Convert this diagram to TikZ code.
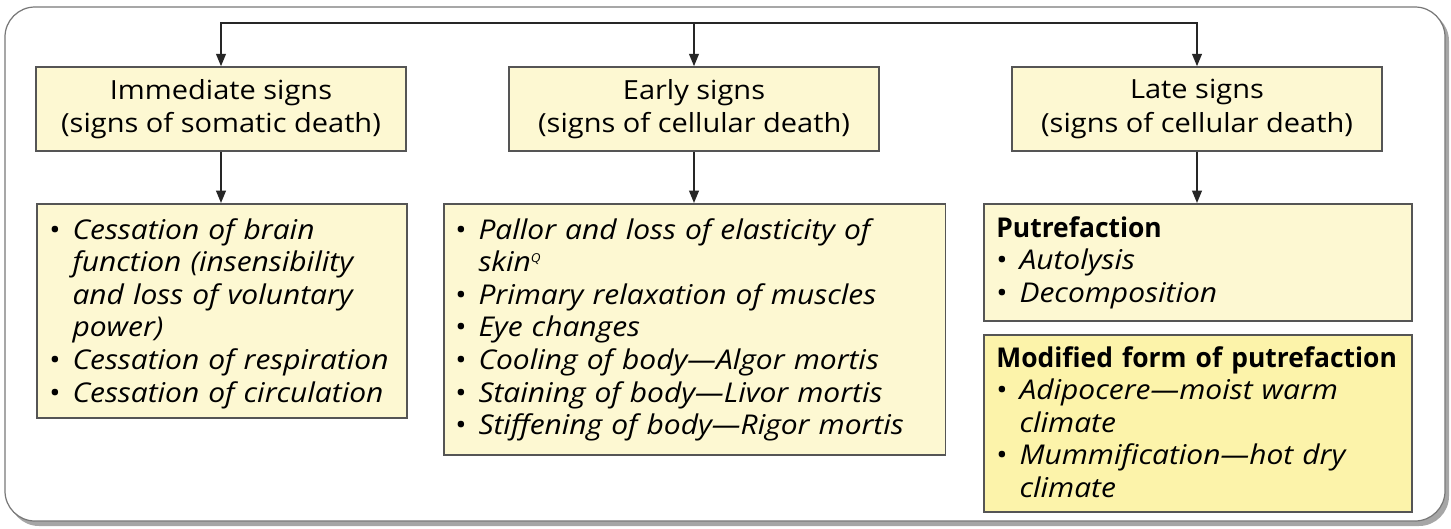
\documentclass[tikz,border=0pt]{standalone}
\usepackage{fontspec}
\setmainfont{Open Sans}[FakeStretch=1.1, BoldFeatures={FakeStretch=0.97}]
\usetikzlibrary{positioning,calc,arrows.meta}
\definecolor{paleyel}{RGB}{253,248,210}
\definecolor{deepyel}{RGB}{252,243,170}
\definecolor{boxline}{RGB}{85,85,85}
\definecolor{frameline}{RGB}{120,120,120}
%% bullet line with hanging indent
\newcommand{\itm}[1]{\noindent\hangindent=0.85em\hangafter=1%
  \makebox[0.85em][l]{\textbullet}\textit{#1}\par}

\begin{document}
\begin{tikzpicture}[x=0.02cm,y=-0.02cm,
  headbox/.style={draw=boxline, line width=0.9pt, fill=paleyel, align=center,
    minimum width=7.4cm, minimum height=1.68cm, inner sep=0pt,
    font=\fontsize{15}{18.8}\selectfont},
  listbox/.style={draw=boxline, line width=0.9pt, fill=paleyel, anchor=north west, inner sep=0pt},
  listtext/.style={anchor=north west, inner sep=0pt, text width=9.6cm,
    font=\fontsize{15.5}{18.55}\selectfont\raggedright},
  conn/.style={line width=1pt, draw=black!85, -{Triangle[length=7pt,width=5.5pt]}}]
\useasboundingbox (0,0) rectangle (1451,528);
%% Outer frame with shadow
\fill[black!35, rounded corners=0.6cm] (9,11) rectangle (1449,526);
\draw[frameline, fill=white, line width=0.7pt, rounded corners=0.6cm] (5,7) rectangle (1445,521);
%% Heading boxes
\node[headbox] (imm) at (221,109) {Immediate signs\\(signs of somatic death)};
\node[headbox] (early) at (694,109) {Early signs\\(signs of cellular death)};
\node[headbox] (late) at (1197,109) {Late signs\\(signs of cellular death)};
%% List boxes
\node[listbox, minimum width=7.4cm, minimum height=4.28cm] (immlist) at (36,203) {};
\node[listbox, minimum width=10.04cm, minimum height=5.02cm] (earlylist) at (443,203) {};
\node[listbox, minimum width=8.56cm, minimum height=2.34cm] (putre) at (983,203) {};
\node[listbox, fill=deepyel, minimum width=8.56cm, minimum height=3.54cm] (modif) at (983,334) {};
%% List texts
\node[listtext] (immtext) at ($(immlist.north west)+(13,15)$) {%
  \itm{Cessation of brain\newline function (insensibility\newline and loss of voluntary\newline power)}
  \itm{Cessation of respiration}
  \itm{Cessation of circulation}};
\node[listtext] (earlytext) at ($(earlylist.north west)+(12,15)$) {%
  \itm{Pallor and loss of elasticity of\newline skin\textsuperscript{\scriptsize Q}}
  \itm{Primary relaxation of muscles}
  \itm{Eye changes}
  \itm{Cooling of body---Algor mortis}
  \itm{Staining of body---Livor mortis}
  \itm{Stiffening of body---Rigor mortis}};
\node[listtext] (putretext) at ($(putre.north west)+(13,13)$) {%
  \textbf{Putrefaction}\par
  \itm{Autolysis}
  \itm{Decomposition}};
\node[listtext] (modiftext) at ($(modif.north west)+(13,12)$) {%
  \textbf{Modified form of putrefaction}\par
  \itm{Adipocere---moist warm\newline climate}
  \itm{Mummification---hot dry\newline climate}};
%% Connectors
\coordinate (split) at ($(early.north)+(0,-43)$);
\draw[conn] (split) -| (imm.north);
\draw[conn] (split) -| (late.north);
\draw[conn] (split) -- (early.north);
\draw[conn] (imm.south) -- (imm.south |- immlist.north);
\draw[conn] (early.south) -- (early.south |- earlylist.north);
\draw[conn] (late.south) -- (late.south |- putre.north);
\end{tikzpicture}
\end{document}
